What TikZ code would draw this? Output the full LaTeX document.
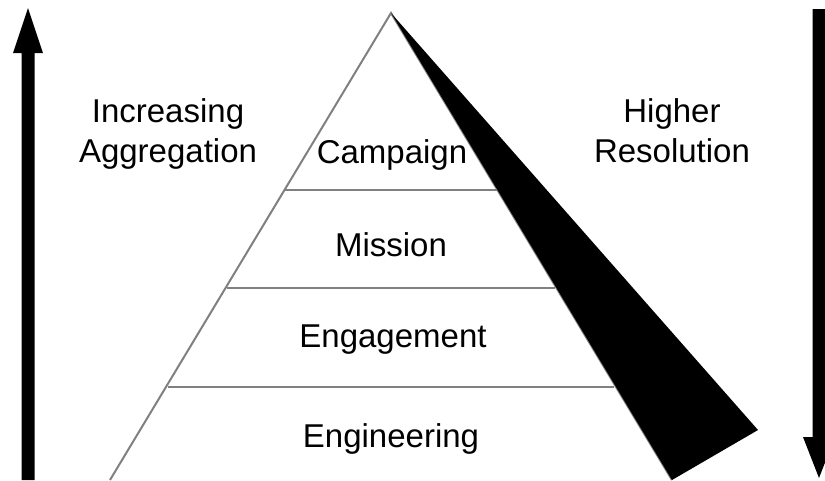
\documentclass[tikz,border=0pt]{standalone}
\usepackage{fontspec}
\setmainfont{Liberation Sans}
\begin{document}
\begin{tikzpicture}[x=1pt,y=-1pt,
  lbl/.style={font=\fontsize{33}{40}\selectfont, inner sep=0pt, anchor=base, align=center},
  tier/.style={draw=black!50, line width=2pt},
  bigarrow/.style={fill=black}]
\useasboundingbox (0,0) rectangle (825,480);
% pyramid outline
\coordinate (apex) at (391,13);
\coordinate (bl) at (110,480);
\coordinate (br) at (672,480);
\draw[tier] (bl) -- (apex) -- (br);
% tier separators
\draw[tier] (285,190) -- (497,190);
\draw[tier] (227,288) -- (555,288);
\draw[tier] (168,387) -- (614,387);
% black wedge along the right face
\fill[black] (apex) -- (758,430) -- (br) -- cycle;
% tier labels
\node[lbl] (campaign) at (392,163) {Campaign};
\node[lbl] (mission) at (391,256) {Mission};
\node[lbl] (engagement) at (393,347) {Engagement};
\node[lbl] (engineering) at (391,447) {Engineering};
% side labels (base anchor sits on the last line)
\node[lbl] (agg) at (168,162) {Increasing\\Aggregation};
\node[lbl] (res) at (672,162) {Higher\\Resolution};
% upward arrow on the left
\fill[bigarrow] (21.5,480) -- (21.5,53) -- (13,53) -- (28,8) -- (43,53) -- (34.5,53) -- (34.5,480) -- cycle;
% downward arrow on the right
\fill[bigarrow] (812.5,9) -- (812.5,437) -- (803,437) -- (819,478) -- (835,437) -- (825.5,437) -- (825.5,9) -- cycle;
\end{tikzpicture}
\end{document}
